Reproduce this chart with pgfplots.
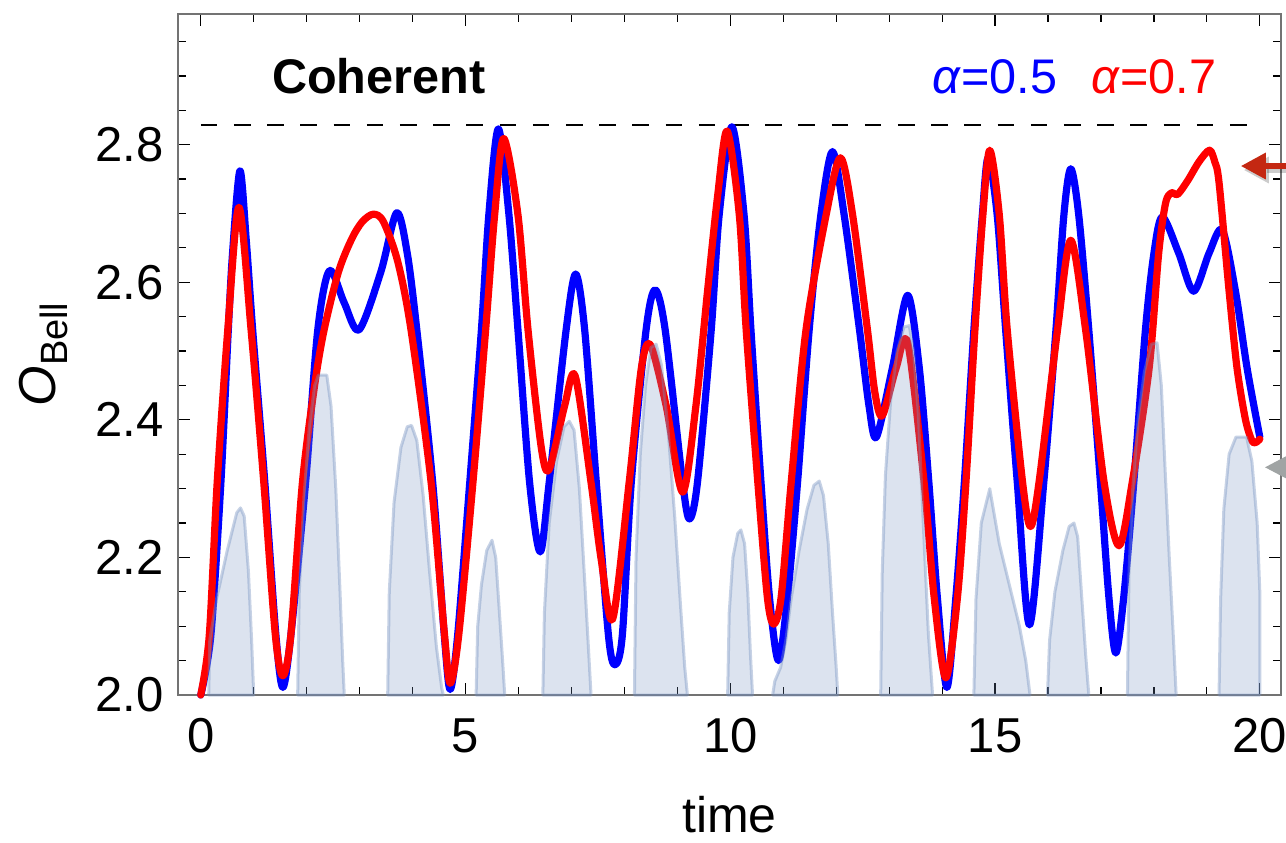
\documentclass[border=0pt]{standalone}
\usepackage{fontspec}
\setmainfont{Liberation Sans}
\usepackage{pgfplots}
\pgfplotsset{compat=1.18}
\usetikzlibrary{arrows.meta}
\definecolor{hump}{RGB}{115,143,191}
\definecolor{arrred}{RGB}{196,40,18}
\definecolor{arrgray}{RGB}{160,164,164}
\begin{document}
\begin{tikzpicture}
\useasboundingbox (-89pt,-73.5pt) rectangle (554pt,347.5pt);
\begin{axis}[
  at={(0,0)}, anchor=south west,
  scale only axis, width=551.5pt, height=340.5pt,
  xmin=-0.43, xmax=20.4, ymin=2.0, ymax=2.99,
  clip=false,
  xtick={0,5,10,15,20},
  minor xtick={1,2,3,4,6,7,8,9,11,12,13,14,16,17,18,19},
  ytick={2.0,2.2,2.4,2.6,2.8},
  minor ytick={2.05,2.1,2.15,2.25,2.3,2.35,2.45,2.5,2.55,2.65,2.7,2.75,2.85,2.9,2.95},
  major tick length=6pt, minor tick length=3.85pt,
  tick align=inside,
  axis line style={draw=black!55, line width=0.75pt},
  every tick/.style={black, line width=0.6pt},
  tick label style={font=\fontsize{24.5}{29}\selectfont},
  /pgf/number format/assume math mode=true,
  yticklabel style={/pgf/number format/fixed, /pgf/number format/fixed zerofill, /pgf/number format/precision=1, anchor=east, inner sep=0pt, xshift=-7pt},
  xticklabel style={anchor=base, inner sep=0pt, yshift=-28.5pt},
  xlabel={time},
  every axis x label/.style={at={(axis description cs:0.5,-0.202)}, anchor=base, inner sep=0pt, font=\fontsize{25}{30}\selectfont},
  ylabel={{\fontsize{26}{30}\selectfont\itshape O}\raisebox{-6pt}{\fontsize{19}{22}\selectfont Bell}},
  every axis y label/.style={at={(axis description cs:-0.1115,0.5)}, rotate=90, anchor=base},
]
% dashed bound 2*sqrt(2)
\addplot[black, line width=1pt, dash pattern=on 8.3pt off 8.3pt] coordinates {(0,2.828) (20,2.828)};
% alpha = 0.5
\addplot[blue, line width=3.6pt, smooth, line cap=round, line join=round] coordinates {
(0,2.0)(0.19,2.086)(0.38,2.309)(0.52,2.531)(0.60,2.642)(0.74,2.762)(0.86,2.66)(0.98,2.531)(1.21,2.309)(1.42,2.086)(1.55,2.011)(1.70,2.086)(1.98,2.309)(2.21,2.531)(2.43,2.617)(2.71,2.57)(2.99,2.531)(3.40,2.615)(3.70,2.701)(3.90,2.642)(4.08,2.531)(4.38,2.309)(4.60,2.086)(4.71,2.008)(4.85,2.086)(5.08,2.309)(5.30,2.531)(5.44,2.698)(5.62,2.823)(5.82,2.698)(5.99,2.531)(6.21,2.309)(6.41,2.208)(6.58,2.309)(6.90,2.531)(7.08,2.612)(7.25,2.531)(7.47,2.309)(7.70,2.086)(7.82,2.044)(7.96,2.086)(8.13,2.309)(8.41,2.531)(8.58,2.589)(8.77,2.531)(9.10,2.309)(9.23,2.256)(9.38,2.309)(9.64,2.531)(9.79,2.698)(10.03,2.826)(10.26,2.698)(10.39,2.531)(10.58,2.309)(10.74,2.142)(10.91,2.050)(11.08,2.142)(11.27,2.309)(11.49,2.531)(11.71,2.698)(11.93,2.790)(12.15,2.698)(12.44,2.531)(12.62,2.42)(12.76,2.375)(13.06,2.475)(13.35,2.581)(13.57,2.475)(13.75,2.309)(13.91,2.142)(14.09,2.011)(14.26,2.142)(14.42,2.309)(14.60,2.531)(14.76,2.698)(14.87,2.781)(15.04,2.698)(15.20,2.531)(15.42,2.309)(15.65,2.102)(15.92,2.309)(16.15,2.531)(16.30,2.698)(16.43,2.765)(16.58,2.698)(16.77,2.531)(16.99,2.309)(17.15,2.142)(17.28,2.061)(17.43,2.142)(17.62,2.309)(17.84,2.531)(18.00,2.642)(18.16,2.695)(18.47,2.642)(18.75,2.587)(19.04,2.642)(19.29,2.676)(19.54,2.587)(19.76,2.475)(20.0,2.375)};
% alpha = 0.7
\addplot[red, line width=3.6pt, smooth, line cap=round, line join=round] coordinates {
(0,2.0)(0.16,2.086)(0.31,2.309)(0.51,2.531)(0.72,2.709)(0.95,2.531)(1.19,2.309)(1.41,2.086)(1.55,2.028)(1.70,2.086)(1.92,2.309)(2.15,2.45)(2.33,2.531)(2.60,2.615)(2.85,2.663)(3.05,2.688)(3.26,2.699)(3.45,2.688)(3.72,2.63)(3.97,2.531)(4.35,2.309)(4.60,2.09)(4.71,2.017)(4.87,2.086)(5.14,2.309)(5.38,2.531)(5.55,2.698)(5.72,2.809)(5.99,2.698)(6.18,2.531)(6.43,2.36)(6.58,2.328)(6.87,2.42)(7.07,2.464)(7.37,2.309)(7.56,2.198)(7.78,2.111)(8.09,2.309)(8.32,2.475)(8.49,2.509)(8.79,2.42)(9.10,2.295)(9.35,2.42)(9.57,2.587)(9.76,2.725)(9.94,2.820)(10.17,2.698)(10.30,2.531)(10.52,2.309)(10.70,2.142)(10.82,2.103)(10.96,2.142)(11.15,2.309)(11.43,2.531)(11.81,2.698)(12.08,2.781)(12.31,2.698)(12.59,2.531)(12.73,2.44)(12.87,2.406)(13.13,2.475)(13.35,2.512)(13.66,2.309)(13.85,2.142)(14.07,2.025)(14.29,2.142)(14.45,2.309)(14.62,2.531)(14.77,2.698)(14.90,2.792)(15.08,2.698)(15.23,2.531)(15.52,2.309)(15.67,2.245)(15.83,2.309)(16.18,2.531)(16.43,2.661)(16.71,2.531)(17.06,2.309)(17.34,2.217)(17.59,2.309)(17.91,2.475)(18.09,2.642)(18.22,2.715)(18.33,2.73)(18.45,2.728)(18.64,2.748)(18.85,2.775)(19.05,2.792)(19.15,2.775)(19.23,2.745)(19.42,2.587)(19.57,2.475)(19.73,2.40)(19.85,2.37)(19.92,2.367)(20.0,2.372)};
% shaded distributions
\pgfplotsset{humpstyle/.style={fill=hump, fill opacity=0.25, draw=hump, draw opacity=0.4, line width=1.5pt, line join=round}}
\addplot[humpstyle] coordinates {(0.15,2.0)(0.17,2.08)(0.30,2.14)(0.50,2.21)(0.68,2.265)(0.75,2.272)(0.82,2.26)(0.90,2.18)(0.96,2.08)(1.00,2.0)} --cycle;
\addplot[humpstyle] coordinates {(1.83,2.0)(1.86,2.15)(1.95,2.29)(2.05,2.39)(2.15,2.45)(2.22,2.465)(2.38,2.465)(2.46,2.42)(2.55,2.30)(2.63,2.15)(2.68,2.05)(2.71,2.0)} --cycle;
\addplot[humpstyle] coordinates {(3.53,2.0)(3.56,2.15)(3.65,2.28)(3.78,2.36)(3.90,2.39)(3.98,2.392)(4.08,2.37)(4.20,2.29)(4.32,2.18)(4.45,2.07)(4.55,2.01)(4.58,2.0)} --cycle;
\addplot[humpstyle] coordinates {(5.20,2.0)(5.23,2.10)(5.30,2.16)(5.40,2.21)(5.50,2.225)(5.57,2.20)(5.64,2.12)(5.70,2.05)(5.74,2.0)} --cycle;
\addplot[humpstyle] coordinates {(6.46,2.0)(6.49,2.12)(6.58,2.25)(6.72,2.34)(6.86,2.39)(6.96,2.398)(7.05,2.385)(7.15,2.30)(7.24,2.18)(7.32,2.07)(7.37,2.0)} --cycle;
\addplot[humpstyle] coordinates {(8.19,2.0)(8.22,2.20)(8.30,2.35)(8.40,2.45)(8.50,2.505)(8.60,2.51)(8.70,2.48)(8.82,2.39)(8.95,2.26)(9.06,2.13)(9.14,2.04)(9.19,2.0)} --cycle;
\addplot[humpstyle] coordinates {(9.95,2.0)(9.98,2.12)(10.05,2.20)(10.14,2.235)(10.20,2.24)(10.27,2.22)(10.33,2.15)(10.38,2.06)(10.42,2.0)} --cycle;
\addplot[humpstyle] coordinates {(10.80,2.0)(10.84,2.02)(10.95,2.04)(11.05,2.08)(11.15,2.14)(11.30,2.21)(11.45,2.27)(11.58,2.305)(11.68,2.311)(11.76,2.29)(11.85,2.22)(11.93,2.12)(12.00,2.04)(12.03,2.0)} --cycle;
\addplot[humpstyle] coordinates {(12.84,2.0)(12.87,2.18)(12.93,2.32)(13.03,2.43)(13.15,2.50)(13.28,2.535)(13.38,2.537)(13.46,2.50)(13.55,2.41)(13.65,2.24)(13.74,2.09)(13.82,2.0)} --cycle;
\addplot[humpstyle] coordinates {(14.60,2.0)(14.64,2.14)(14.74,2.25)(14.90,2.30)(15.08,2.22)(15.27,2.16)(15.46,2.10)(15.58,2.05)(15.66,2.0)} --cycle;
\addplot[humpstyle] coordinates {(15.99,2.0)(16.03,2.08)(16.13,2.15)(16.28,2.21)(16.40,2.245)(16.49,2.25)(16.56,2.23)(16.63,2.15)(16.71,2.06)(16.77,2.0)} --cycle;
\addplot[humpstyle] coordinates {(17.50,2.0)(17.53,2.18)(17.60,2.30)(17.70,2.40)(17.82,2.47)(17.95,2.51)(18.06,2.512)(18.14,2.45)(18.21,2.33)(18.29,2.20)(18.37,2.08)(18.42,2.0)} --cycle;
\addplot[humpstyle] coordinates {(19.23,2.0)(19.26,2.14)(19.32,2.27)(19.42,2.35)(19.55,2.375)(19.75,2.375)(19.85,2.34)(19.95,2.25)(20.0,2.15)(20.0,2.0)} --cycle;
% annotations
\node[anchor=base west, inner sep=0pt, font=\fontsize{24.3}{29}\selectfont\bfseries] at (axis cs:1.34,2.875) {Coherent};
\node[anchor=base west, inner sep=0pt, text=blue, font=\fontsize{24.3}{29}\selectfont] at (axis cs:13.81,2.875) {\textit{α}=0.5};
\node[anchor=base west, inner sep=0pt, text=red, font=\fontsize{24.3}{29}\selectfont] at (axis cs:16.81,2.875) {\textit{α}=0.7};
% side arrows
\draw[black, opacity=0.2, line width=3pt, -{Triangle[length=12.5pt,width=12.5pt]}] ([xshift=1.5pt,yshift=-2pt]axis cs:20.8,2.769) -- ([xshift=1.5pt,yshift=-2pt]axis cs:19.64,2.769);
\draw[arrred, line width=3pt, -{Triangle[length=12.5pt,width=12.5pt]}] (axis cs:20.8,2.769) -- (axis cs:19.64,2.769);
\draw[arrgray, line width=3pt, -{Triangle[length=12.5pt,width=12pt]}] (axis cs:20.9,2.331) -- (axis cs:20.09,2.331);
\end{axis}
\end{tikzpicture}
\end{document}
